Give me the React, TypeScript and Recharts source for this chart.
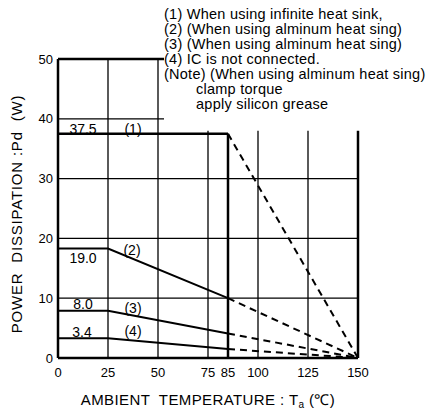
import { LineChart, Line, XAxis, YAxis, ReferenceLine, ReferenceDot } from "recharts";

const TEMP_TICKS = [0, 25, 50, 75, 85, 100, 125, 150];
const PD_TICKS = [0, 10, 20, 30, 40, 50];

// (1) infinite heat sink
const curve1 = [
  { t: 0, pd: 37.5 },
  { t: 85, pd: 37.5 },
];
const curve1Derate = [
  { t: 85, pd: 37.5 },
  { t: 150, pd: 0 },
];

// (2) alminum heat sink
const curve2 = [
  { t: 0, pd: 18.3 },
  { t: 25, pd: 18.3 },
  { t: 85, pd: 10 },
];
const curve2Derate = [
  { t: 85, pd: 10 },
  { t: 150, pd: 0 },
];

// (3) alminum heat sink
const curve3 = [
  { t: 0, pd: 7.9 },
  { t: 25, pd: 7.9 },
  { t: 85, pd: 4.1 },
];
const curve3Derate = [
  { t: 85, pd: 4.1 },
  { t: 150, pd: 0 },
];

// (4) IC not connected
const curve4 = [
  { t: 0, pd: 3.3 },
  { t: 25, pd: 3.3 },
  { t: 85, pd: 1.5 },
];
const curve4Derate = [
  { t: 85, pd: 1.5 },
  { t: 150, pd: 0 },
];

const annotations = [
  { t: 12.5, pd: 38.3, text: "37.5" },
  { t: 37.5, pd: 38.3, text: "(1)" },
  { t: 37, pd: 18.1, text: "(2)" },
  { t: 12.5, pd: 16.7, text: "19.0" },
  { t: 12.5, pd: 9.0, text: "8.0" },
  { t: 37.5, pd: 8.4, text: "(3)" },
  { t: 12, pd: 4.35, text: "3.4" },
  { t: 37.5, pd: 4.5, text: "(4)" },
];

const notes = [
  { text: "(1) When using infinite heat sink,", indent: false },
  { text: "(2) (When using alminum heat sing)", indent: false },
  { text: "(3) (When using alminum heat sing)", indent: false },
  { text: "(4) IC is not connected.", indent: false },
  { text: "(Note) (When using alminum heat sing)", indent: false },
  { text: "clamp torque", indent: true },
  { text: "apply silicon grease", indent: true },
];

const FULL_GRID_PD = [10, 20, 30];
const LOW_GRID_TEMPS = [75, 100, 125];

const FONT = "'Liberation Sans', Arial, sans-serif";
const INK = "#000";

export default function App() {
  return (
    <div style={{ position: "absolute", left: 0, top: 0, width: 427, height: 409, background: "#fff", fontFamily: FONT }}>
      <LineChart width={427} height={409} margin={{ top: 59, right: 69, bottom: 0, left: 0 }}>
        <XAxis
          type="number"
          dataKey="t"
          domain={[0, 150]}
          ticks={TEMP_TICKS}
          interval={0}
          allowDataOverflow
          height={51}
          tickLine={false}
          tickMargin={4}
          axisLine={{ stroke: INK, strokeWidth: 2.5 }}
          tick={{ fill: INK, fontSize: 13, fontFamily: FONT }}
          label={{
            content: () => (
              <text x={208} y={405} textAnchor="middle" fontSize={15} fontFamily={FONT} fill={INK} style={{ whiteSpace: "pre" }} letterSpacing={0.4}>
                {"AMBIENT  TEMPERATURE : T"}
                <tspan fontSize={10} dy={3}>a</tspan>
                <tspan dy={-3}>{" (℃)"}</tspan>
              </text>
            ),
          }}
        />
        <YAxis
          type="number"
          domain={[0, 50]}
          ticks={PD_TICKS}
          interval={0}
          allowDataOverflow
          width={58}
          tickLine={false}
          tickMargin={-1}
          axisLine={{ stroke: INK, strokeWidth: 2.5 }}
          tick={{ fill: INK, fontSize: 13, fontFamily: FONT }}
          label={{
            content: () => (
              <text x={22} y={214} textAnchor="middle" fontSize={15} fontFamily={FONT} fill={INK} transform="rotate(-90 22 214)" style={{ whiteSpace: "pre" }} letterSpacing={0.8}>
                {"POWER  DISSIPATION :Pd  (W)"}
              </text>
            ),
          }}
        />

        {FULL_GRID_PD.map((pd) => (
          <ReferenceLine key={`h${pd}`} y={pd} stroke={INK} strokeWidth={1.3} ifOverflow="visible" />
        ))}
        <ReferenceLine segment={[{ x: 0, y: 40 }, { x: 53, y: 40 }]} stroke={INK} strokeWidth={1.3} />
        <ReferenceLine segment={[{ x: 0, y: 50 }, { x: 53, y: 50 }]} stroke={INK} strokeWidth={2.5} />
        <ReferenceLine segment={[{ x: 25, y: 0 }, { x: 25, y: 50 }]} stroke={INK} strokeWidth={1.3} />
        <ReferenceLine segment={[{ x: 50, y: 0 }, { x: 50, y: 50 }]} stroke={INK} strokeWidth={1.3} />
        {LOW_GRID_TEMPS.map((t) => (
          <ReferenceLine key={`v${t}`} segment={[{ x: t, y: 0 }, { x: t, y: 38 }]} stroke={INK} strokeWidth={1.3} />
        ))}
        <ReferenceLine segment={[{ x: 150, y: 0 }, { x: 150, y: 38 }]} stroke={INK} strokeWidth={2.5} />
        <ReferenceLine segment={[{ x: 85, y: 0 }, { x: 85, y: 37.5 }]} stroke={INK} strokeWidth={2.5} />

        <Line data={curve1} dataKey="pd" stroke={INK} strokeWidth={2.5} dot={false} isAnimationActive={false} />
        <Line data={curve1Derate} dataKey="pd" stroke={INK} strokeWidth={2} strokeDasharray="7 5" dot={false} isAnimationActive={false} />
        <Line data={curve2} dataKey="pd" stroke={INK} strokeWidth={2} dot={false} isAnimationActive={false} />
        <Line data={curve2Derate} dataKey="pd" stroke={INK} strokeWidth={2} strokeDasharray="7 5" dot={false} isAnimationActive={false} />
        <Line data={curve3} dataKey="pd" stroke={INK} strokeWidth={2} dot={false} isAnimationActive={false} />
        <Line data={curve3Derate} dataKey="pd" stroke={INK} strokeWidth={2} strokeDasharray="7 5" dot={false} isAnimationActive={false} />
        <Line data={curve4} dataKey="pd" stroke={INK} strokeWidth={2} dot={false} isAnimationActive={false} />
        <Line data={curve4Derate} dataKey="pd" stroke={INK} strokeWidth={2} strokeDasharray="7 5" dot={false} isAnimationActive={false} />

        {annotations.map((a) => (
          <ReferenceDot
            key={a.text}
            x={a.t}
            y={a.pd}
            r={1}
            fill="none"
            stroke="none"
            label={{ value: a.text, position: "center", fill: INK, fontSize: 14, fontFamily: FONT }}
          />
        ))}
      </LineChart>

      <div style={{ position: "absolute", left: 164, top: 7, fontSize: 14.5, lineHeight: "15px", color: INK, whiteSpace: "pre", letterSpacing: 0.25 }}>
        {notes.map((n) => (
          <div key={n.text} style={{ paddingLeft: n.indent ? 32 : 0 }}>
            {n.text}
          </div>
        ))}
      </div>
    </div>
  );
}
